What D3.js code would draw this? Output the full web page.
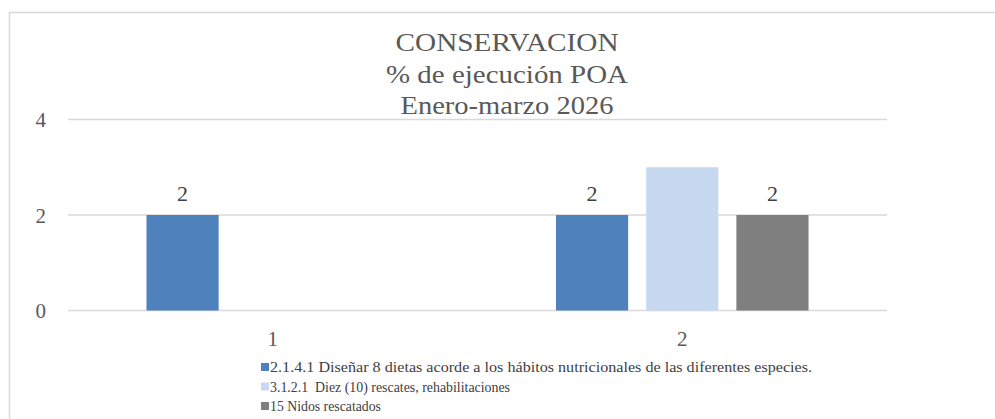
<!DOCTYPE html>
<html>
<head>
<meta charset="utf-8">
<script src="https://cdn.jsdelivr.net/npm/d3@7/dist/d3.min.js"></script>
</head>
<body style="margin:0">
<script>
  var width = 995, height = 419;

  // chart data
  var categories = ["1", "2"];
  var seriesNames = [
    "2.1.4.1 Diseñar 8 dietas acorde a los hábitos nutricionales de las diferentes especies.",
    "3.1.2.1  Diez (10) rescates, rehabilitaciones",
    "15 Nidos rescatados"
  ];
  var dietas = [2, 2];
  var rescates = [null, 3];
  var nidos = [null, 2];
  var seriesColors = ["#4f81bd", "#c6d9f1", "#7f7f7f"];
  var showLabels = [true, false, true];
  var yTicks = [0, 2, 4];
  var titleLines = ["CONSERVACION", "% de ejecución POA", "Enero-marzo 2026"];

  var seriesValues = [dietas, rescates, nidos];
  var serif = "'Liberation Serif', 'Times New Roman', serif";

  var titleWidths = [223, 242, 213];
  var legendWidths = [542, 240, 111];

  var svg = d3.select("body").append("svg")
      .attr("width", width)
      .attr("height", height)
      .attr("font-family", serif);

  // chart frame (runs off the right and bottom edges)
  svg.append("rect")
      .attr("x", 9.5).attr("y", 12.5)
      .attr("width", 1100).attr("height", 500)
      .attr("fill", "#fff")
      .attr("stroke", "#d9d9d9")
      .attr("stroke-width", 1.5);

  var plotLeft = 68, plotRight = 887;

  var y = d3.scaleLinear().domain([0, 4]).range([310.5, 119.5]);

  var x0 = d3.scaleBand().domain(categories).range([plotLeft, plotRight]);
  var x1 = d3.scaleBand().domain(d3.range(seriesNames.length))
      .range([0, x0.bandwidth()])
      .paddingInner(0.2)
      .paddingOuter(0.87);

  // gridlines
  svg.append("g").selectAll("line")
      .data(yTicks)
    .enter().append("line")
      .attr("x1", plotLeft).attr("x2", plotRight)
      .attr("y1", function(d) { return y(d); })
      .attr("y2", function(d) { return y(d); })
      .attr("stroke", "#d9d9d9")
      .attr("stroke-width", 1.5);

  // y tick labels
  svg.selectAll("text.tick")
      .data(yTicks)
    .enter().append("text")
      .attr("class", "tick")
      .attr("x", 46)
      .attr("y", function(d) { return y(d) + 7.5; })
      .attr("text-anchor", "end")
      .attr("font-size", 21)
      .attr("fill", "#595959")
      .style("font-family", serif)
      .text(function(d) { return d; });

  // bars
  var groups = svg.append("g").selectAll("g")
      .data(categories)
    .enter().append("g")
      .attr("transform", function(d) { return "translate(" + x0(d) + ",0)"; });

  groups.selectAll("rect")
      .data(function(d, i) {
        return seriesValues.map(function(vals, s) { return { s: s, v: vals[i] }; })
                           .filter(function(e) { return e.v != null; });
      })
    .enter().append("rect")
      .attr("x", function(d) { return x1(d.s); })
      .attr("width", x1.bandwidth())
      .attr("y", function(d) { return y(d.v); })
      .attr("height", function(d) { return y(0) - y(d.v); })
      .attr("fill", function(d) { return seriesColors[d.s]; });

  groups.selectAll("text.lbl")
      .data(function(d, i) {
        return seriesValues.map(function(vals, s) { return { s: s, v: vals[i] }; })
                           .filter(function(e) { return e.v != null && showLabels[e.s]; });
      })
    .enter().append("text")
      .attr("class", "lbl")
      .attr("x", function(d) { return x1(d.s) + x1.bandwidth() / 2; })
      .attr("y", function(d) { return y(d.v) - 14; })
      .attr("text-anchor", "middle")
      .attr("font-size", 22)
      .attr("fill", "#404040")
      .style("font-family", serif)
      .text(function(d) { return d.v; });

  // category labels
  svg.selectAll("text.cat")
      .data(categories)
    .enter().append("text")
      .attr("class", "cat")
      .attr("x", function(d) { return x0(d) + x0.bandwidth() / 2; })
      .attr("y", 346)
      .attr("text-anchor", "middle")
      .attr("font-size", 21)
      .attr("fill", "#595959")
      .style("font-family", serif)
      .text(function(d) { return d; });

  // title
  svg.selectAll("text.title")
      .data(titleLines)
    .enter().append("text")
      .attr("class", "title")
      .attr("x", 507)
      .attr("y", function(d, i) { return 51 + i * 31.5; })
      .attr("text-anchor", "middle")
      .attr("font-size", 26)
      .attr("fill", "#595959")
      .attr("textLength", function(d, i) { return titleWidths[i]; })
      .attr("lengthAdjust", "spacingAndGlyphs")
      .style("font-family", serif)
      .text(function(d) { return d; });

  // legend
  var legend = svg.append("g").selectAll("g")
      .data(seriesNames)
    .enter().append("g")
      .attr("transform", function(d, i) { return "translate(261," + (367 + i * 19.5) + ")"; });

  legend.append("rect")
      .attr("x", 0).attr("y", -4)
      .attr("width", 8).attr("height", 8)
      .attr("fill", function(d, i) { return seriesColors[i]; });

  legend.append("text")
      .attr("x", 9)
      .attr("y", 5)
      .attr("font-size", 14)
      .attr("fill", "#404040")
      .attr("textLength", function(d, i) { return legendWidths[i]; })
      .attr("lengthAdjust", "spacingAndGlyphs")
      .style("font-family", serif)
      .style("white-space", "pre")
      .text(function(d) { return d; });
</script>
</body>
</html>
